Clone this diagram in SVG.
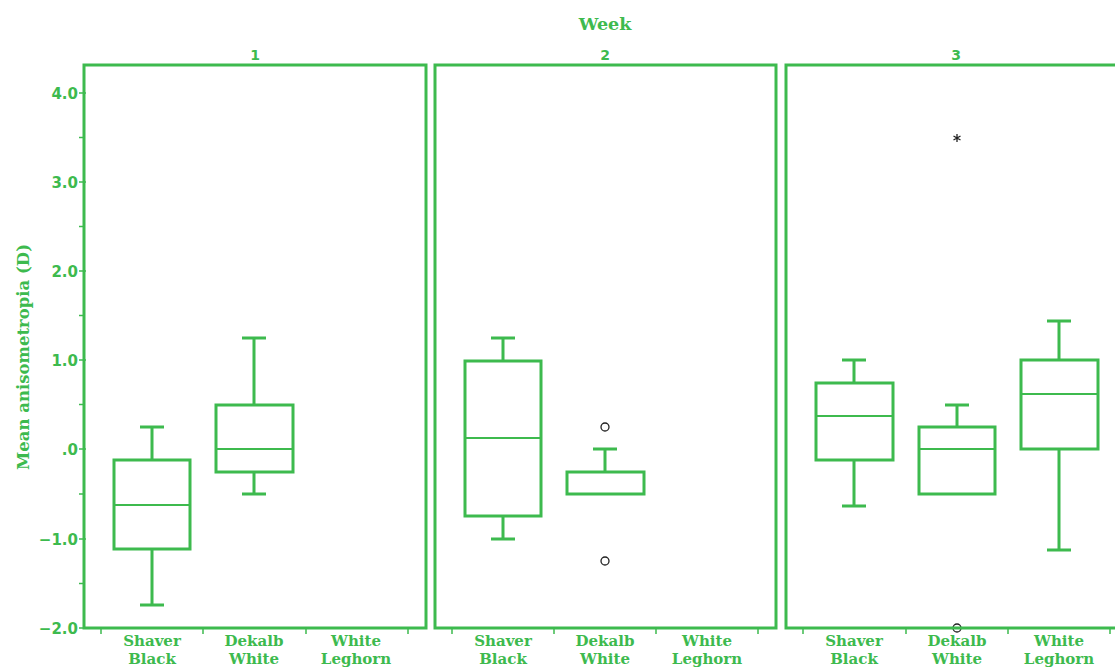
<svg xmlns="http://www.w3.org/2000/svg" width="1115" height="668" viewBox="0 0 1115 668">
<style>
.panel{fill:none;stroke:#3dba4e;stroke-width:3}
.box{fill:none;stroke:#3dba4e;stroke-width:3}
.med{stroke:#3dba4e;stroke-width:2}
.wh{stroke:#3dba4e;stroke-width:3;fill:none}
.tick{stroke:#3dba4e;stroke-width:1.5}
.out{fill:none;stroke:#222;stroke-width:1.3}
.star{stroke:#222;stroke-width:1.3}
.ser{font-family:"DejaVu Serif","Liberation Serif",serif;font-weight:bold;fill:#3dba4e}
.san{font-family:"DejaVu Sans","Liberation Sans",sans-serif;font-weight:bold;fill:#3dba4e}
.cat{font-size:15px;text-anchor:middle}
.yl{font-size:15px;text-anchor:end}
</style>
<rect width="1115" height="668" fill="#fff"/>
<text class="ser" x="605" y="30" font-size="17.5" text-anchor="middle">Week</text>
<text class="ser" transform="translate(29,357) rotate(-90)" font-size="16.5" text-anchor="middle">Mean anisometropia (D)</text>

<g id="yaxis">
<g class="tick">
<line x1="79" y1="93" x2="86" y2="93"/><line x1="79" y1="182" x2="86" y2="182"/><line x1="79" y1="271" x2="86" y2="271"/><line x1="79" y1="360" x2="86" y2="360"/><line x1="79" y1="449" x2="86" y2="449"/><line x1="79" y1="539" x2="86" y2="539"/><line x1="79" y1="628" x2="86" y2="628"/>
<line x1="79" y1="137.5" x2="84" y2="137.5"/><line x1="79" y1="226.5" x2="84" y2="226.5"/><line x1="79" y1="315.5" x2="84" y2="315.5"/><line x1="79" y1="404.5" x2="84" y2="404.5"/><line x1="79" y1="494" x2="84" y2="494"/><line x1="79" y1="583.5" x2="84" y2="583.5"/>
</g>
<text class="san yl" x="78" y="98.5">4.0</text>
<text class="san yl" x="78" y="187.5">3.0</text>
<text class="san yl" x="78" y="276.5">2.0</text>
<text class="san yl" x="78" y="365.5">1.0</text>
<text class="san yl" x="78" y="454.5">.0</text>
<text class="san yl" x="78" y="544.5">−1.0</text>
<text class="san yl" x="78" y="633.5">−2.0</text>
</g>

<g id="panel1">
<text class="san" x="255" y="60" font-size="14" text-anchor="middle">1</text>
<g class="tick"><line x1="101" y1="628" x2="101" y2="634"/><line x1="203" y1="628" x2="203" y2="634"/><line x1="306" y1="628" x2="306" y2="634"/><line x1="408" y1="628" x2="408" y2="634"/></g>
<g id="p1-shaver">
<path class="wh" d="M152 460V427M140 427H164M152 549V605M140 605H164"/>
<rect class="box" x="114" y="460" width="76" height="89"/>
<line class="med" x1="114" y1="505" x2="190" y2="505"/>
</g>
<g id="p1-dekalb">
<path class="wh" d="M254 405V338M242 338H266M254 472V494M242 494H266"/>
<rect class="box" x="216" y="405" width="77" height="67"/>
<line class="med" x1="216" y1="449" x2="293" y2="449"/>
</g>
<rect class="panel" x="84" y="65" width="342" height="563"/>
<text class="ser cat" x="152" y="646">Shaver</text><text class="ser cat" x="152" y="664">Black</text>
<text class="ser cat" x="254" y="646">Dekalb</text><text class="ser cat" x="254" y="664">White</text>
<text class="ser cat" x="356" y="646">White</text><text class="ser cat" x="356" y="664">Leghorn</text>
</g>

<g id="panel2">
<text class="san" x="605" y="60" font-size="14" text-anchor="middle">2</text>
<g class="tick"><line x1="452" y1="628" x2="452" y2="634"/><line x1="554" y1="628" x2="554" y2="634"/><line x1="656" y1="628" x2="656" y2="634"/><line x1="758" y1="628" x2="758" y2="634"/></g>
<g id="p2-shaver">
<path class="wh" d="M503 361V338M491 338H515M503 516V539M491 539H515"/>
<rect class="box" x="465" y="361" width="76" height="155"/>
<line class="med" x1="465" y1="438" x2="541" y2="438"/>
</g>
<g id="p2-dekalb">
<path class="wh" d="M605 472V449M593 449H617"/>
<rect class="box" x="567" y="472" width="77" height="22"/>
<circle class="out" cx="605" cy="427" r="4"/>
<circle class="out" cx="605" cy="561" r="4"/>
</g>
<rect class="panel" x="435" y="65" width="341" height="563"/>
<text class="ser cat" x="503" y="646">Shaver</text><text class="ser cat" x="503" y="664">Black</text>
<text class="ser cat" x="605" y="646">Dekalb</text><text class="ser cat" x="605" y="664">White</text>
<text class="ser cat" x="707" y="646">White</text><text class="ser cat" x="707" y="664">Leghorn</text>
</g>

<g id="panel3">
<text class="san" x="956" y="60" font-size="14" text-anchor="middle">3</text>
<g class="tick"><line x1="803" y1="628" x2="803" y2="634"/><line x1="906" y1="628" x2="906" y2="634"/><line x1="1008" y1="628" x2="1008" y2="634"/><line x1="1110" y1="628" x2="1110" y2="634"/></g>
<g id="p3-shaver">
<path class="wh" d="M854 383V360M842 360H866M854 460V506M842 506H866"/>
<rect class="box" x="816" y="383" width="77" height="77"/>
<line class="med" x1="816" y1="416" x2="893" y2="416"/>
</g>
<g id="p3-dekalb">
<path class="wh" d="M957 427V405M945 405H969"/>
<rect class="box" x="919" y="427" width="76" height="67"/>
<line class="med" x1="919" y1="449" x2="995" y2="449"/>
<path class="star" d="M957 134V142M953.5 136L960.5 140M953.5 140L960.5 136"/>
<circle class="out" cx="957" cy="628" r="4"/>
</g>
<g id="p3-leghorn">
<path class="wh" d="M1059 360V321M1047 321H1071M1059 449V550M1047 550H1071"/>
<rect class="box" x="1021" y="360" width="77" height="89"/>
<line class="med" x1="1021" y1="394" x2="1098" y2="394"/>
</g>
<rect class="panel" x="786" y="65" width="341" height="563"/>
<text class="ser cat" x="854" y="646">Shaver</text><text class="ser cat" x="854" y="664">Black</text>
<text class="ser cat" x="957" y="646">Dekalb</text><text class="ser cat" x="957" y="664">White</text>
<text class="ser cat" x="1059" y="646">White</text><text class="ser cat" x="1059" y="664">Leghorn</text>
</g>
</svg>
